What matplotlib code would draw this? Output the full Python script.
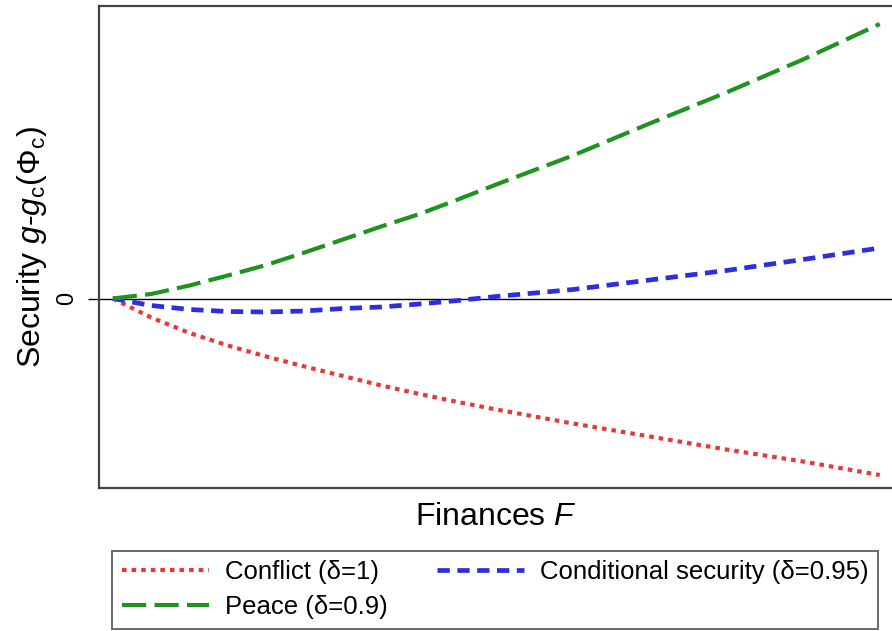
import matplotlib
matplotlib.use("Agg")
import matplotlib.pyplot as plt

plt.rcParams['font.family'] = ['Liberation Sans', 'DejaVu Sans']
plt.rcParams['mathtext.fontset'] = 'custom'
plt.rcParams['mathtext.rm'] = 'Liberation Sans'
plt.rcParams['mathtext.it'] = 'Liberation Sans:italic'

# Data (arbitrary units)
finances = [0, 0.5, 1, 1.5, 2, 2.5, 3, 3.5, 4, 4.5, 5, 6, 7, 8, 9, 10]
conflict = [0, -0.19, -0.345, -0.47, -0.58, -0.68, -0.775, -0.87, -0.955, -1.035,
            -1.11, -1.25, -1.38, -1.51, -1.63, -1.765]
conditional = [0, -0.07, -0.11, -0.13, -0.135, -0.125, -0.10, -0.085, -0.055, -0.02,
               0.02, 0.09, 0.185, 0.28, 0.39, 0.505]
peace = [0, 0.045, 0.13, 0.23, 0.335, 0.46, 0.59, 0.72, 0.845, 0.99, 1.14, 1.43,
         1.75, 2.06, 2.39, 2.745]
labels = ["Conflict (δ=1)", "Conditional security (δ=0.95)", "Peace (δ=0.9)"]

RED = "#e63a3a"
BLUE = "#2e2ee0"
GREEN = "#1e931e"

fig = plt.figure(figsize=(8.92, 6.31), dpi=100)
ax = fig.add_axes([99/892, 1 - 488/631, 1 - 99/892, (488 - 6)/631])

ax.axhline(0, color="black", lw=1.0, zorder=1)
l1, = ax.plot(finances, conflict, color=RED, lw=3.0, linestyle=(0, (1.1, 1.2)))
l2, = ax.plot(finances, conditional, color=BLUE, lw=3.4, linestyle=(0, (2.6, 1.6)))
l3, = ax.plot(finances, peace, color=GREEN, lw=3.0, linestyle=(0, (5.8, 2.0)))

ax.set_xlim(-0.18, 10.16)
ax.set_ylim(-1.895, 2.925)

for s in ["left", "top", "bottom"]:
    ax.spines[s].set_color("#444444")
    ax.spines[s].set_linewidth(1.6)
ax.spines["right"].set_visible(False)

ax.set_xticks([])
ax.set_yticks([0])
ax.set_yticklabels(["0"], rotation=90, va="center", fontsize=17)
ax.tick_params(axis="y", length=8, width=1.0, pad=7, color="black")

ax.set_xlabel(r"Finances $F$", fontsize=23, labelpad=10)
ax.set_ylabel(r"Security $g$-$g_\mathrm{c}(\mathrm{Φ}_\mathrm{c})$", fontsize=23, labelpad=5)

leg = fig.legend([l1, l3, l2], [labels[0], labels[2], labels[1]], ncol=2,
                 loc="lower left", bbox_to_anchor=(112/892, 2/631, (878-112)/892, 0.1),
                 mode="expand", frameon=True, fancybox=False, edgecolor="#444444",
                 prop={'size': 18.5},
                 handlelength=3.4, handletextpad=0.6, columnspacing=1.35,
                 borderpad=0.38, labelspacing=0.42, borderaxespad=0)
leg.get_frame().set_linewidth(1.4)

fig.savefig("out.png", dpi=100)
